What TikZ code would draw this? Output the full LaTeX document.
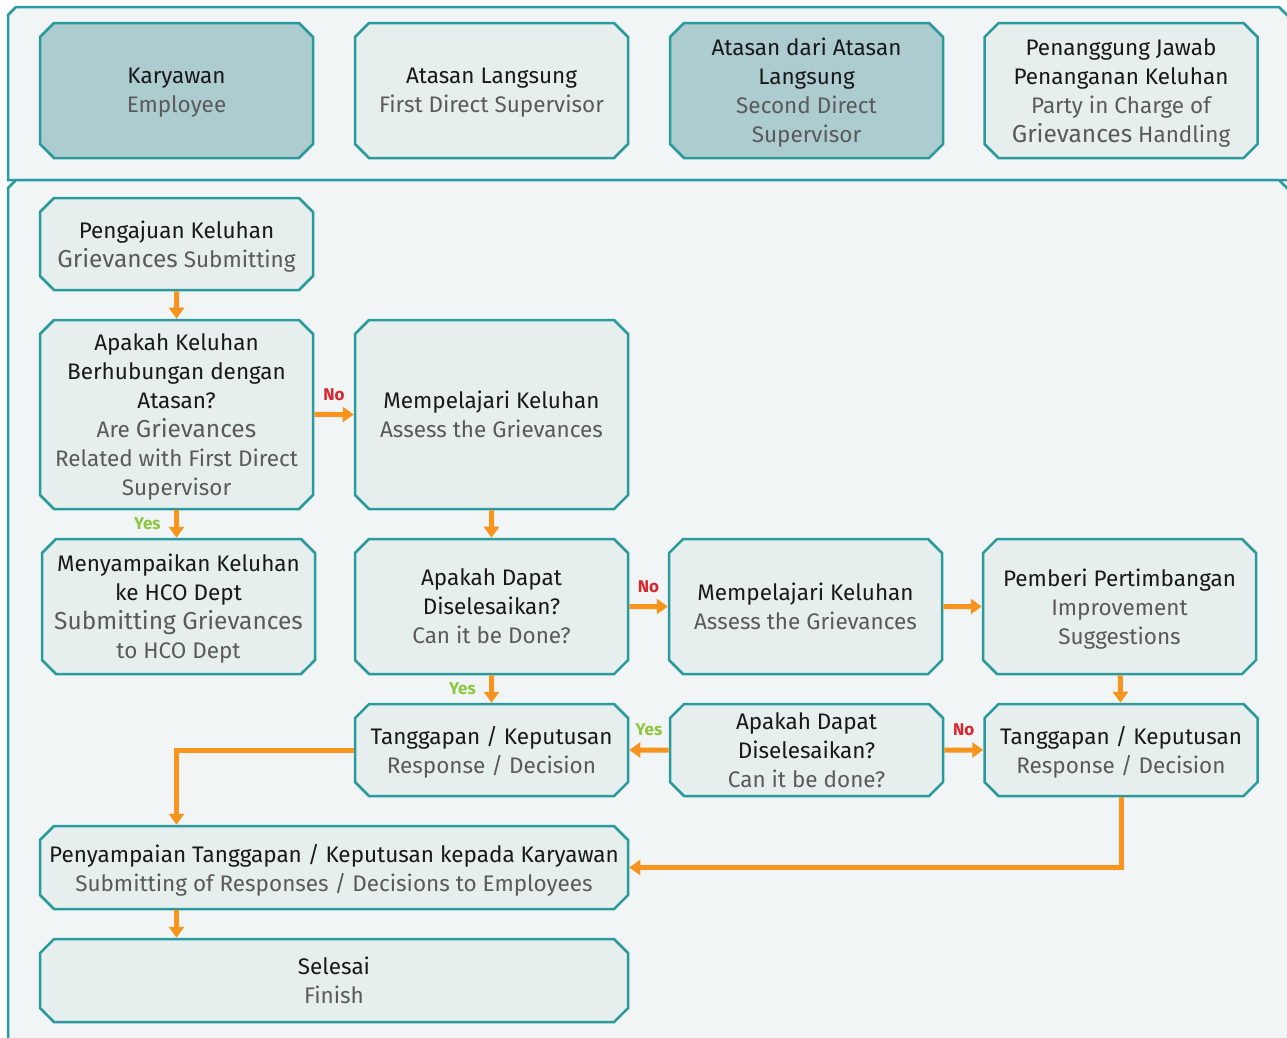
\documentclass[tikz,border=0pt]{standalone}
\usepackage{fontspec}
\setmainfont{Fira Sans}
\usetikzlibrary{arrows.meta,shapes.misc}

\definecolor{teal}{HTML}{2A9A9C}
\definecolor{boxfill}{HTML}{E6EEEE}
\definecolor{headfill}{HTML}{ADCCCF}
\definecolor{panel}{HTML}{F1F5F6}
\definecolor{flow}{HTML}{F7941D}
\definecolor{noc}{HTML}{D7262E}
\definecolor{yesc}{HTML}{8DC63F}
\definecolor{engrey}{HTML}{5A5A5A}
\newcommand{\en}[1]{{\color{engrey}#1}}
\newcommand{\gv}[1]{{\fontsize{24.5}{29}\selectfont #1}}

\tikzset{
  box/.style={chamfered rectangle, chamfered rectangle xsep=7pt, chamfered rectangle ysep=7pt,
    draw=teal, line width=2.5pt, fill=boxfill, inner sep=0pt, align=center,
    minimum width=273pt, font=\fontsize{22.5}{29}\selectfont, text=black!90,
    text depth=0pt},
  headbox/.style={box, minimum height=135pt},
  flowarrow/.style={draw=flow, line width=5pt, -{Triangle[length=11pt,width=15pt]}},
  nolabel/.style={text=noc, font=\bfseries\fontsize{17}{18}\selectfont},
  yeslabel/.style={text=yesc, font=\bfseries\fontsize{17}{18}\selectfont}
}

\begin{document}
\begin{tikzpicture}[x=1pt,y=-1pt]
\useasboundingbox (0,0) rectangle (1287,1037);
% panels
\draw[teal, line width=2.5pt, fill=panel] (8,180) -- (8,15) -- (16,7) -- (1279,7) -- (1289,17) -- (1289,180) -- cycle;
\draw[teal, line width=2.5pt, fill=panel] (8,1040) -- (8,188) -- (16,180) -- (1279,180) -- (1289,190) -- (1289,1040);

% header row
\node[headbox, fill=headfill] (kary) at (176.5,90.5) {Karyawan\\\en{Employee}};
\node[headbox] (atasan) at (491.5,90.5) {Atasan Langsung\\\en{First Direct Supervisor}};
\node[headbox, fill=headfill] (atasan2) at (806.5,90.5) {Atasan dari Atasan\\Langsung\\\en{Second Direct}\\\en{Supervisor}};
\node[headbox] (pj) at (1121,90.5) {Penanggung Jawab\\Penanganan Keluhan\\\en{Party in Charge of}\\\en{\gv{Grievances} Handling}};

% process
\node[box, minimum height=92pt] (pengajuan) at (176.5,244) {Pengajuan Keluhan\\\en{\gv{Grievances} Submitting}};
\node[box, minimum height=189pt] (apakah1) at (176.5,414.5) {Apakah Keluhan\\Berhubungan dengan\\Atasan?\\\en{Are \gv{Grievances}}\\\en{Related with First Direct}\\\en{Supervisor}};
\node[box, minimum height=189pt] (pelajari1) at (491.5,414.5) {Mempelajari Keluhan\\\en{Assess the Grievances}};
\node[box, minimum height=135pt] (sampaikan) at (178.5,606.5) {Menyampaikan Keluhan\\ke HCO Dept\\\en{\gv{Submitting Grievances}}\\\en{to HCO Dept}};
\node[box, minimum height=135pt] (dapat1) at (491.5,606.5) {Apakah Dapat\\Diselesaikan?\\\en{Can it be Done?}};
\node[box, minimum height=135pt] (pelajari2) at (805.5,606.5) {Mempelajari Keluhan\\\en{Assess the Grievances}};
\node[box, minimum height=135pt] (pemberi) at (1119.5,606.5) {Pemberi Pertimbangan\\\en{Improvement}\\\en{Suggestions}};
\node[box, minimum height=92pt] (tanggap1) at (491.5,750) {Tanggapan / Keputusan\\\en{Response / Decision}};
\node[box, minimum height=92pt] (dapat2) at (806.5,750) {Apakah Dapat\\Diselesaikan?\\\en{Can it be done?}};
\node[box, minimum height=92pt] (tanggap2) at (1121,750) {Tanggapan / Keputusan\\\en{Response / Decision}};
\node[box, minimum width=588pt, minimum height=83pt] (penyampaian) at (334,867.5) {Penyampaian Tanggapan / Keputusan kepada Karyawan\\\en{Submitting of Responses / Decisions to Employees}};
\node[box, minimum width=588pt, minimum height=83pt] (selesai) at (334,980.5) {Selesai\\\en{Finish}};

% arrows
\draw[flowarrow] (pengajuan) -- (apakah1);
\draw[flowarrow] (apakah1) -- node[nolabel, above=8pt] {No} (pelajari1);
\draw[flowarrow] (apakah1.south) -- node[yeslabel, left=10pt] {Yes} (apakah1.south |- sampaikan.north);
\draw[flowarrow] (pelajari1) -- (dapat1);
\draw[flowarrow] (dapat1) -- node[nolabel, above=8pt] {No} (pelajari2);
\draw[flowarrow] (pelajari2) -- (pemberi);
\draw[flowarrow] (dapat1) -- node[yeslabel, left=10pt] {Yes} (tanggap1);
\draw[flowarrow] (pemberi) -- (tanggap2);
\draw[flowarrow] (dapat2) -- node[yeslabel, above=8pt] {Yes} (tanggap1);
\draw[flowarrow] (dapat2) -- node[nolabel, above=8pt] {No} (tanggap2);
\draw[flowarrow] (tanggap1.west) -| (pengajuan |- penyampaian.north);
\draw[flowarrow] (tanggap2.south) |- (penyampaian.east);
\draw[flowarrow] (pengajuan |- penyampaian.south) -- (pengajuan |- selesai.north);
\end{tikzpicture}
\end{document}
